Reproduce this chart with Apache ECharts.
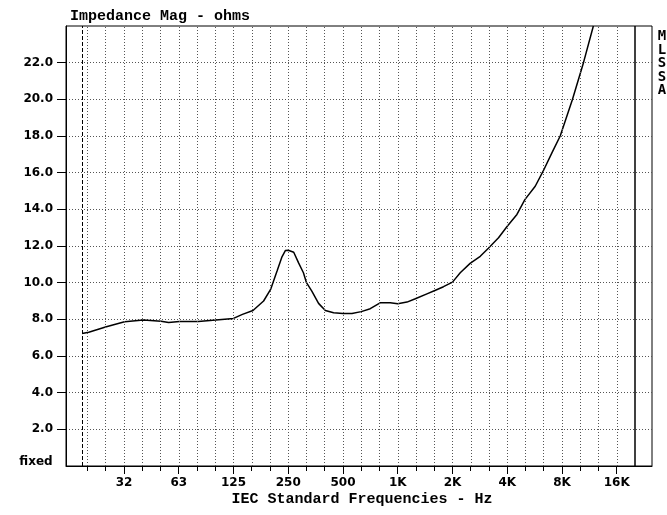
<!DOCTYPE html>
<html>
<head>
<meta charset="utf-8">
<script src="https://cdn.jsdelivr.net/npm/echarts@6/dist/echarts.min.js"></script>
<style>
  html, body { margin: 0; padding: 0; background: #fff; }
  #chart { width: 667px; height: 515px; }
</style>
</head>
<body>
<div id="chart"></div>
<script>
// impedance sweep
const freqHz = [18.4, 20, 25, 31.5, 40, 50, 55, 63, 80, 100,
  125, 140, 160, 183, 200, 217, 231, 241, 250, 268,
  285, 303, 315, 337, 367, 400, 444, 500, 560, 630,
  706, 800, 909, 1000, 1124, 1250, 1447, 1600, 1785, 2000,
  2206, 2500, 2842, 3150, 3582, 4000, 4522, 5000, 5700, 6300,
  7040, 7820, 9140, 10500, 11900]
const impedanceOhms = [7.23, 7.3, 7.6, 7.87, 7.96, 7.9, 7.83, 7.88, 7.88, 7.96,
  8.05, 8.27, 8.48, 9.0, 9.63, 10.63, 11.41, 11.75, 11.77, 11.66,
  11.08, 10.54, 10.0, 9.54, 8.87, 8.48, 8.36, 8.32, 8.32, 8.42,
  8.58, 8.9, 8.9, 8.85, 8.94, 9.12, 9.39, 9.57, 9.78, 10.03,
  10.54, 11.05, 11.44, 11.88, 12.45, 13.08, 13.72, 14.53, 15.26, 16.08,
  17.08, 18.0, 20.0, 22.0, 24.0]

// IEC third-octave bands (nominal) and the labelled octaves
const bandHz = [20, 25, 31.5, 40, 50, 63, 80, 100, 125, 160, 200, 250, 315, 400, 500,
  630, 800, 1000, 1250, 1600, 2000, 2500, 3150, 4000, 5000, 6300, 8000, 10000, 12500, 16000]
const octaveHz = [31.5, 63, 125, 250, 500, 1000, 2000, 4000, 8000, 16000]
const octaveLabels = ['32', '63', '125', '250', '500', '1K', '2K', '4K', '8K', '16K']
const yTicks = [2, 4, 6, 8, 10, 12, 14, 16, 18, 20, 22]

const freqMin = 15
const freqMax = 25000
const upperLimitHz = 20000
const lowerLimitHz = 18.4

// frequencies live on a log2 (octave) scale; nominal bands snap to exact 1/3 octave
const oct = f => Math.log2(f)
const band = f => Math.log2(1000) + Math.round(3 * Math.log2(f / 1000)) / 3

const bandPos = bandHz.map(band)
const octavePos = octaveHz.map(band)

const TICK_FONT = 'bold 12px "DejaVu Sans"'
const tickText = { fontFamily: 'DejaVu Sans', fontSize: 12, fontWeight: 'bold', color: '#000' }
const NAME_FONT = 'bold 15px "Liberation Mono"'
const gridDots = { color: '#555', width: 1, type: [1, 2] }

const markLines = bandPos.map(v => ({ xAxis: v, lineStyle: gridDots }))
markLines.push({ xAxis: oct(upperLimitHz), lineStyle: { color: '#000', width: 1.5, type: 'solid' } })
markLines.push({ xAxis: oct(lowerLimitHz), lineStyle: { color: '#000', width: 1, type: [4, 2] } })

const chart = echarts.init(document.getElementById('chart'), null, { renderer: 'canvas' })

chart.setOption({
  animation: false,
  backgroundColor: '#fff',
  grid: {
    left: 66, right: 15, top: 26, bottom: 49,
    show: true, borderColor: '#000', borderWidth: 1,
  },
  xAxis: [{
    type: 'value',
    min: oct(freqMin),
    max: oct(freqMax),
    position: 'bottom',
    axisLine: { show: true, lineStyle: { color: '#000', width: 1 } },
    axisTick: { show: true, inside: false, length: 5, customValues: bandPos, lineStyle: { color: '#000' } },
    axisLabel: Object.assign({
      show: true,
      customValues: octavePos,
      margin: 11,
      formatter: v => {
        let idx = 0
        octavePos.forEach((p, i) => { if (Math.abs(p - v) < Math.abs(octavePos[idx] - v)) idx = i })
        return octaveLabels[idx]
      },
    }, tickText),
    splitLine: { show: false },
  }, {
    type: 'value',
    min: oct(freqMin),
    max: oct(freqMax),
    position: 'bottom',
    axisLine: { show: false },
    axisTick: { show: true, length: 8, customValues: octavePos, lineStyle: { color: '#000' } },
    axisLabel: { show: false },
    splitLine: { show: false },
  }],
  yAxis: {
    type: 'value',
    min: 0,
    max: 24,
    interval: 2,
    axisLine: { show: true, lineStyle: { color: '#000', width: 1 } },
    axisTick: { show: true, length: 9, customValues: yTicks, lineStyle: { color: '#000' } },
    axisLabel: Object.assign({
      customValues: yTicks,
      margin: 13,
      formatter: v => v.toFixed(1),
    }, tickText),
    splitLine: { show: true, lineStyle: gridDots },
  },
  graphic: [
    { type: 'text', x: 70, y: 16.5, style: { text: 'Impedance Mag - ohms', font: NAME_FONT, fill: '#000', verticalAlign: 'middle' } },
    { type: 'text', x: 362, y: 499.5, style: { text: 'IEC Standard Frequencies - Hz', font: NAME_FONT, fill: '#000', align: 'center', verticalAlign: 'middle' } },
    { type: 'text', x: 662, y: 30, style: { text: 'M\nL\nS\nS\nA', font: 'bold 14px "DejaVu Sans Mono"', lineHeight: 13.5, fill: '#000', align: 'center', verticalAlign: 'top' } },
    { type: 'text', x: 52.7, y: 462, style: { text: 'fixed', font: TICK_FONT, fill: '#000', align: 'right', verticalAlign: 'middle' } },
  ],
  series: [{
    type: 'line',
    xAxisIndex: 0,
    data: freqHz.map((f, i) => [oct(f), impedanceOhms[i]]),
    showSymbol: false,
    symbol: 'none',
    clip: true,
    lineStyle: { color: '#000', width: 1.5 },
    markLine: {
      silent: true,
      symbol: ['none', 'none'],
      label: { show: false },
      data: markLines,
    },
  }],
})
</script>
</body>
</html>
